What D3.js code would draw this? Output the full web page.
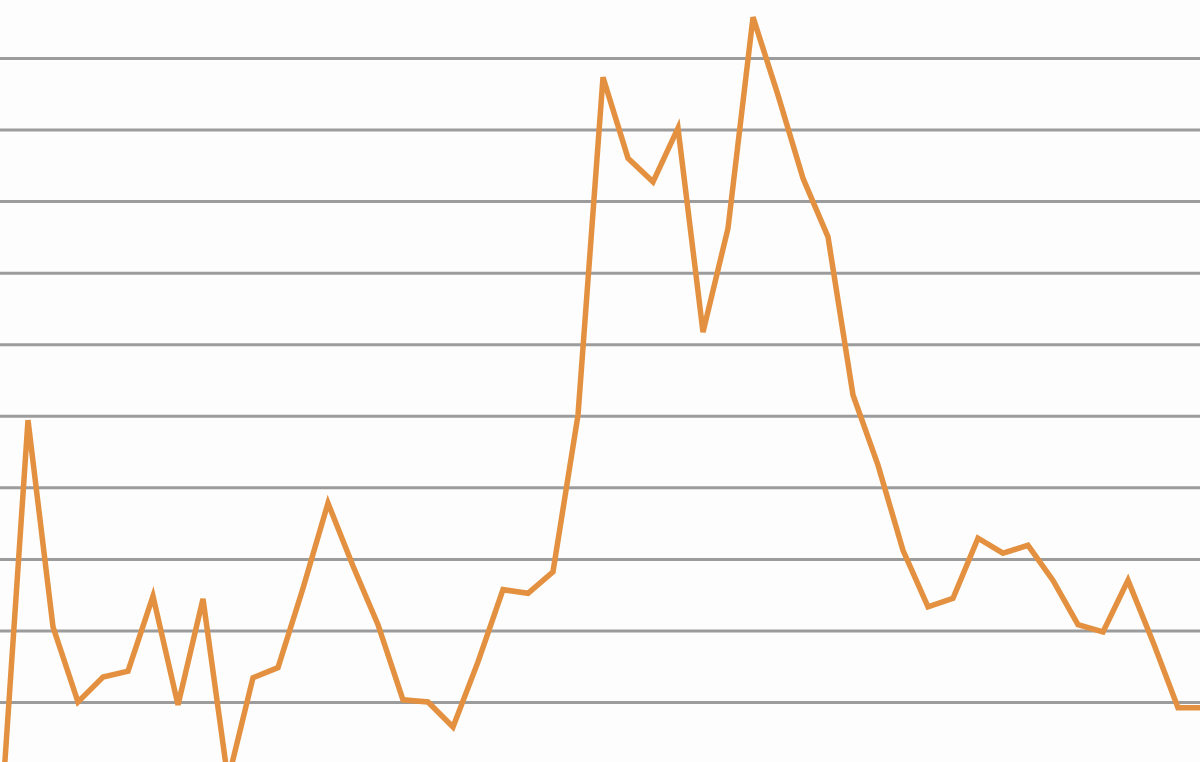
<!DOCTYPE html>
<html>
<head>
<meta charset="utf-8">
<script src="https://cdn.jsdelivr.net/npm/d3@7"></script>
<style>
  html, body { margin: 0; padding: 0; background: #fdfdfd; overflow: hidden; }
  .grid line { stroke: #9c9c9c; stroke-width: 3; }
  .grid .domain { display: none; }
</style>
</head>
<body>
<div id="my_linechart"></div>
<script>
// values, one per period
var periods = d3.range(49);
var values = [
  -12.3, 39.4, 10.5, 0, 3.5, 4.3, 14.8, -0.4, 14.4, -10.9,
  3.4, 4.8, 15.9, 27.8, 19.0, 10.8, 0.3, 0, -3.5, 5.6,
  15.7, 15.2, 18.2, 40.1, 87.3, 76.0, 72.7, 80.2, 51.7, 66.2,
  95.7, 84.8, 73.2, 65.0, 42.9, 33.1, 21.2, 13.3, 14.5, 22.9,
  20.8, 21.9, 17.0, 10.8, 9.8, 17.0, 8.4, -0.8, -0.8
];
var gridTicks = [0, 10, 20, 30, 40, 50, 60, 70, 80, 90];

var width = 1200, height = 762;

var svg = d3.select("#my_linechart")
  .append("svg")
  .attr("width", width)
  .attr("height", height);

svg.append("defs").append("filter")
  .attr("id", "soft")
  .append("feGaussianBlur")
  .attr("stdDeviation", 0.7);

// x: one step per period
var x = d3.scaleLinear()
  .domain([0, periods.length - 1])
  .range([3, 1203]);

// y: gridlines from 0 (bottom) to 90 (top)
var y = d3.scaleLinear()
  .domain([0, 90])
  .range([702, 58]);

// horizontal gridlines, no labels
svg.append("g")
  .attr("class", "grid")
  .attr("filter", "url(#soft)")
  .call(d3.axisLeft(y).tickValues(gridTicks).tickSize(-width).tickFormat(""));

var line = d3.line()
  .x(function(d, i) { return x(periods[i]); })
  .y(function(d) { return y(d); });

svg.append("path")
  .datum(values)
  .attr("fill", "none")
  .attr("stroke", "#e3913f")
  .attr("stroke-width", 5.5)
  .attr("stroke-linejoin", "miter")
  .attr("filter", "url(#soft)")
  .attr("d", line);
</script>
</body>
</html>
